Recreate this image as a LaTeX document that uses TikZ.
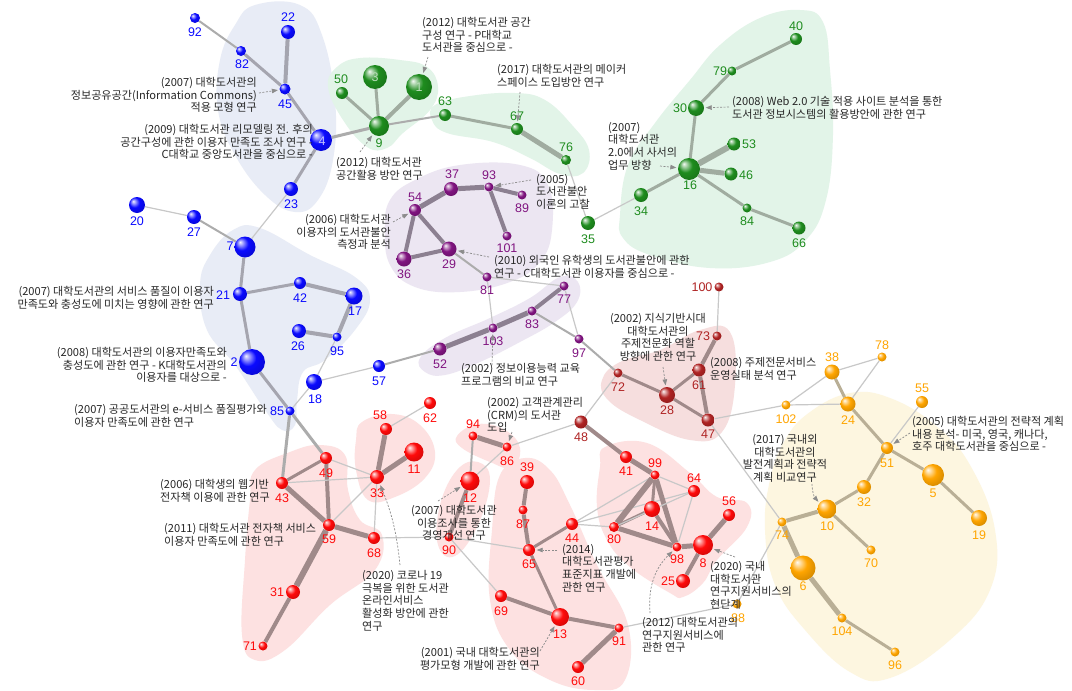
\documentclass[tikz,border=0pt]{standalone}
\usepackage{fontspec}
\setmainfont{Noto Sans CJK KR}
\newfontfamily\numfont{Liberation Sans}
\usetikzlibrary{arrows.meta}
\definecolor{cB}{RGB}{10,10,255}
\definecolor{cG}{RGB}{30,140,30}
\definecolor{cP}{RGB}{128,20,128}
\definecolor{cD}{RGB}{175,35,35}
\definecolor{cR}{RGB}{255,10,10}
\definecolor{cO}{RGB}{255,165,0}
\definecolor{bB}{RGB}{232,236,246}
\definecolor{bG}{RGB}{226,244,232}
\definecolor{bP}{RGB}{236,230,242}
\definecolor{bD}{RGB}{246,222,222}
\definecolor{bR}{RGB}{253,225,225}
\definecolor{bO}{RGB}{253,246,224}
\definecolor{eL}{RGB}{200,200,200}
\definecolor{eM}{RGB}{172,172,172}
\definecolor{ecB}{RGB}{165,165,175}
\definecolor{ecG}{RGB}{160,172,160}
\definecolor{ecP}{RGB}{140,128,145}
\definecolor{ecR}{RGB}{160,138,138}
\definecolor{ecO}{RGB}{185,175,150}
\colorlet{sphc}{blue}
\pgfdeclareradialshading[sphc]{sphshade}{\pgfqpoint{-12bp}{12bp}}{color(0bp)=(sphc!5!white); color(5bp)=(sphc!35!white); color(16bp)=(sphc); color(30bp)=(sphc!85!black); color(50bp)=(sphc!60!black)}
\tikzset{
  sph/.style={circle, inner sep=0pt, minimum size=#1, shade, shading=sphshade, draw=none},
  sc/.code={\colorlet{sphc}{#1}},
  lbl/.style={font=\numfont\fontsize{12.5}{14}\selectfont, inner sep=0pt},
  ann/.style={font=\fontsize{11.1}{12.7}\selectfont, inner sep=0pt, text=black!85},
  arr/.style={draw=black!45, dash pattern=on 2pt off 1.5pt, line width=0.7pt, -{Triangle[length=6pt,width=4.5pt]}, shorten >=1.5pt}
}
\newcommand\sphere[5]{\node[sph={2*#4pt}, sc=#5] (n#1) at (#2,#3) {};}
\newcommand\edg[3]{\draw[#1] (n#2) -- (n#3);}
\newcommand\nlab[4]{\node[lbl,text=#4] (l#1) at (#2,#3) {#1};}
\begin{document}
\begin{tikzpicture}[x=1pt,y=-1pt]
\useasboundingbox (0,0) rectangle (1072,691);
\fill[white] (0,0) rectangle (1072,691);
% ---------- blobs ----------
\fill[bB] plot[smooth cycle, tension=0.7] coordinates {(255,5) (300,5) (322,35) (335,100) (333,160) (318,200) (295,212) (265,195) (235,155) (218,110) (220,60) (235,25)};
\fill[bB] plot[smooth cycle, tension=0.7] coordinates {(233,230) (260,228) (310,255) (355,277) (370,300) (355,330) (325,360) (303,372) (297,400) (295,425) (282,430) (265,410) (235,365) (207,330) (200,285) (210,255)};
\fill[bG] plot[smooth cycle, tension=0.7] coordinates {(328,87) (337,67) (360,58) (400,60) (427,67) (438,87) (430,110) (403,133) (387,148) (367,147) (343,120)};
\fill[bG] plot[smooth cycle, tension=0.7] coordinates {(435,105) (470,96) (515,93) (545,100) (572,125) (589,150) (583,173) (560,174) (530,158) (493,142) (447,133) (432,120)};
\fill[bG] plot[smooth cycle, tension=0.7] coordinates {(620,215) (628,165) (655,123) (690,80) (720,45) (760,18) (800,10) (823,22) (830,70) (833,135) (826,200) (806,240) (770,262) (710,268) (650,255) (623,238)};
\fill[bP] plot[smooth cycle, tension=0.7] coordinates {(390,200) (415,180) (460,165) (520,165) (548,185) (552,230) (540,262) (510,282) (460,292) (415,287) (390,265) (385,230)};
\fill[bP] plot[smooth cycle, tension=0.7] coordinates {(420,358) (445,338) (490,318) (530,298) (560,277) (578,282) (577,302) (555,322) (520,342) (480,362) (445,375) (425,372)};
\fill[bD] plot[smooth cycle, tension=0.7] coordinates {(602,380) (620,362) (660,350) (700,330) (730,332) (735,385) (722,432) (690,440) (640,420) (608,400)};
\fill[bO] plot[smooth cycle, tension=0.7] coordinates {(785,440) (810,412) (850,393) (890,398) (935,425) (970,465) (995,530) (990,590) (950,640) (890,678) (850,672) (805,630) (775,585) (765,530) (770,480)};
\fill[bR] plot[smooth cycle, tension=0.7] coordinates {(255,470) (290,452) (320,445) (345,455) (348,490) (360,520) (382,535) (375,570) (330,605) (285,650) (255,660) (242,635) (245,560) (250,500)};
\fill[bR] plot[smooth cycle, tension=0.7] coordinates {(362,422) (392,414) (420,425) (435,452) (425,478) (395,497) (368,500) (356,470) (356,440)};
\fill[bR] plot[smooth cycle, tension=0.7] coordinates {(457,436) (478,424) (505,430) (520,448) (512,468) (490,462) (462,448)};
\fill[bR] plot[smooth cycle, tension=0.7] coordinates {(457,470) (478,462) (490,480) (478,525) (455,556) (438,545) (440,505)};
\fill[bR] plot[smooth cycle, tension=0.7] coordinates {(500,475) (525,458) (550,470) (570,505) (597,565) (628,625) (625,680) (595,690) (550,680) (510,650) (490,600) (492,530)};
\fill[bR] plot[smooth cycle, tension=0.7] coordinates {(605,447) (647,443) (690,473) (717,497) (747,503) (747,527) (717,560) (703,583) (683,597) (670,593) (630,567) (607,540) (597,507) (600,467)};
% ---------- sphere list ----------
\newcommand\allspheres{%
\sphere{92}{195}{18}{5}{cB}
\sphere{82}{241}{51}{5}{cB}
\sphere{22}{288}{32}{7}{cB}
\sphere{45}{285}{89}{5.5}{cB}
\sphere{4}{321}{140}{11}{cB}
\sphere{23}{291}{189}{7}{cB}
\sphere{20}{137}{205}{8}{cB}
\sphere{27}{194}{217}{7}{cB}
\sphere{7}{245}{247}{10.5}{cB}
\sphere{21}{240}{294}{7}{cB}
\sphere{42}{300}{283}{6}{cB}
\sphere{17}{354}{296}{8.5}{cB}
\sphere{26}{299}{331}{7}{cB}
\sphere{95}{337}{337}{4.5}{cB}
\sphere{2}{252}{362}{13}{cB}
\sphere{18}{314}{382}{8}{cB}
\sphere{57}{379}{366}{6}{cB}
\sphere{85}{290}{411}{4.5}{cB}
\sphere{50}{342}{93}{6}{cG}
\sphere{3}{375}{77}{12}{cG}
\sphere{1}{419}{87}{13}{cG}
\sphere{9}{379}{126}{10}{cG}
\sphere{63}{445}{115}{6}{cG}
\sphere{67}{517}{129}{6}{cG}
\sphere{76}{566}{160}{5}{cG}
\sphere{35}{588}{223}{7}{cG}
\sphere{34}{641}{195}{7}{cG}
\sphere{16}{689}{169}{11}{cG}
\sphere{30}{696}{108}{8}{cG}
\sphere{79}{732}{71}{4.5}{cG}
\sphere{40}{796}{39}{6}{cG}
\sphere{53}{734}{144}{6.5}{cG}
\sphere{46}{731}{174}{6.5}{cG}
\sphere{84}{747}{208}{4.5}{cG}
\sphere{66}{799}{228}{6.5}{cG}
\sphere{37}{451}{189}{7}{cP}
\sphere{93}{489}{187}{4.5}{cP}
\sphere{89}{522}{195}{4.5}{cP}
\sphere{54}{415}{210}{6}{cP}
\sphere{101}{507}{236}{4.5}{cP}
\sphere{36}{404}{259}{7.5}{cP}
\sphere{29}{449}{249}{7.5}{cP}
\sphere{81}{487}{277}{4.5}{cP}
\sphere{77}{564}{286}{4.5}{cP}
\sphere{83}{532}{311}{4.5}{cP}
\sphere{103}{493}{328}{4.5}{cP}
\sphere{52}{440}{349}{6.5}{cP}
\sphere{97}{579}{339}{4.5}{cP}
\sphere{100}{719}{287}{4.5}{cD}
\sphere{73}{717}{336}{4.5}{cD}
\sphere{61}{699}{370}{6.5}{cD}
\sphere{72}{618}{373}{4.5}{cD}
\sphere{28}{667}{395}{8}{cD}
\sphere{47}{708}{420}{6.5}{cD}
\sphere{48}{581}{422}{6.5}{cD}
\sphere{102}{786}{405}{4.5}{cO}
\sphere{38}{832}{372}{7.5}{cO}
\sphere{78}{882}{357}{4.5}{cO}
\sphere{55}{922}{402}{6}{cO}
\sphere{24}{848}{404}{7.5}{cO}
\sphere{51}{887}{448}{6}{cO}
\sphere{5}{933}{475}{11}{cO}
\sphere{32}{864}{487}{7}{cO}
\sphere{10}{827}{509}{9.5}{cO}
\sphere{19}{979}{518}{8}{cO}
\sphere{70}{871}{550}{4.5}{cO}
\sphere{6}{803}{568}{12.5}{cO}
\sphere{104}{842}{618}{4.5}{cO}
\sphere{96}{895}{652}{4.5}{cO}
\sphere{74}{782}{522}{4.5}{cO}
\sphere{88}{737}{604}{4.5}{cO}
\sphere{58}{386}{429}{6}{cR}
\sphere{62}{430}{403}{6}{cR}
\sphere{94}{473}{436}{4.5}{cR}
\sphere{86}{507}{447}{4.5}{cR}
\sphere{11}{414}{452}{9.5}{cR}
\sphere{12}{470}{481}{9.5}{cR}
\sphere{39}{527}{482}{7}{cR}
\sphere{87}{523}{510}{4.5}{cR}
\sphere{49}{326}{458}{6}{cR}
\sphere{43}{282}{483}{6}{cR}
\sphere{33}{377}{477}{7}{cR}
\sphere{59}{329}{525}{6}{cR}
\sphere{68}{374}{538}{6}{cR}
\sphere{90}{449}{537}{4.5}{cR}
\sphere{65}{529}{550}{6}{cR}
\sphere{31}{293}{592}{7}{cR}
\sphere{69}{501}{596}{6}{cR}
\sphere{71}{263}{646}{4.5}{cR}
\sphere{41}{626}{457}{6}{cR}
\sphere{99}{655}{475}{4.5}{cR}
\sphere{64}{694}{491}{6}{cR}
\sphere{14}{652}{509}{8}{cR}
\sphere{56}{729}{515}{6}{cR}
\sphere{44}{572}{524}{6}{cR}
\sphere{80}{614}{527}{5}{cR}
\sphere{98}{677}{547}{4.5}{cR}
\sphere{8}{703}{545}{10}{cR}
\sphere{25}{683}{581}{7}{cR}
\sphere{13}{560}{617}{9}{cR}
\sphere{91}{619}{628}{4.5}{cR}
\sphere{60}{578}{667}{6}{cR}
}
% first pass: invisible nodes for edge anchoring
\begin{scope}
\renewcommand\sphere[5]{\node[circle, inner sep=0pt, minimum size={2*#4pt}] (n#1) at (#2,#3) {};}
\allspheres
\end{scope}
% ---------- edges ----------
\edg{eM,line width=2pt}{92}{82}
\edg{ecB,line width=3pt}{82}{45}
\edg{ecB,line width=4pt}{22}{45}
\edg{ecB,line width=3pt}{45}{4}
\edg{ecB,line width=3pt}{4}{23}
\edg{eM,line width=3pt}{4}{9}
\edg{eL,line width=1.2pt}{23}{7}
\edg{eL,line width=1.2pt}{20}{27}
\edg{eM,line width=2pt}{27}{7}
\edg{ecB,line width=3pt}{7}{21}
\edg{ecB,line width=3pt}{21}{42}
\edg{ecB,line width=4pt}{42}{17}
\edg{ecB,line width=3pt}{21}{2}
\edg{ecB,line width=4pt}{17}{95}
\edg{ecB,line width=4pt}{26}{95}
\edg{eL,line width=1.2pt}{95}{18}
\edg{ecB,line width=3pt}{2}{85}
\edg{eM,line width=3pt}{85}{49}
\edg{eM,line width=3pt}{85}{43}
\edg{eL,line width=1.2pt}{85}{18}
\edg{eL,line width=1.2pt}{18}{57}
\edg{eM,line width=2pt}{57}{52}
\edg{ecG,line width=3pt}{50}{9}
\edg{ecG,line width=3pt}{3}{9}
\edg{ecG,line width=4pt}{1}{9}
\edg{eM,line width=2pt}{9}{63}
\edg{ecG,line width=3pt}{63}{67}
\edg{ecG,line width=5pt}{67}{76}
\edg{eL,line width=1.2pt}{76}{35}
\edg{eL,line width=1.2pt}{35}{34}
\edg{ecG,line width=3pt}{34}{16}
\edg{ecG,line width=3pt}{16}{30}
\edg{ecG,line width=3pt}{30}{79}
\edg{ecG,line width=3pt}{79}{40}
\edg{ecG,line width=6pt}{16}{53}
\edg{ecG,line width=5pt}{16}{46}
\edg{ecG,line width=3pt}{16}{84}
\edg{ecG,line width=3pt}{84}{66}
\edg{ecP,line width=5pt}{54}{37}
\edg{ecP,line width=5pt}{37}{93}
\edg{ecP,line width=4pt}{93}{89}
\edg{ecP,line width=4pt}{93}{101}
\edg{ecP,line width=4pt}{54}{36}
\edg{ecP,line width=4pt}{54}{29}
\edg{ecP,line width=4pt}{36}{29}
\edg{eM,line width=2pt}{29}{81}
\edg{eL,line width=1.2pt}{81}{77}
\edg{eL,line width=1.2pt}{81}{103}
\edg{ecP,line width=4pt}{83}{77}
\edg{ecP,line width=5pt}{103}{83}
\edg{ecP,line width=5pt}{52}{103}
\edg{eL,line width=1.2pt}{77}{97}
\edg{eM,line width=2pt}{83}{97}
\edg{eM,line width=2pt}{97}{72}
\edg{eL,line width=1.2pt}{100}{73}
\edg{ecR,line width=4pt}{73}{61}
\edg{ecR,line width=3pt}{61}{28}
\edg{ecR,line width=4pt}{61}{47}
\edg{ecR,line width=3pt}{72}{28}
\edg{ecR,line width=3pt}{28}{47}
\edg{eL,line width=1.2pt}{72}{48}
\edg{eL,line width=1.2pt}{48}{86}
\edg{ecR,line width=4pt}{48}{41}
\edg{eL,line width=1.2pt}{47}{102}
\edg{eL,line width=1.2pt}{47}{74}
\edg{eL,line width=1.2pt}{102}{24}
\edg{eL,line width=1.2pt}{38}{78}
\edg{ecO,line width=3pt}{38}{24}
\edg{eL,line width=1.2pt}{78}{24}
\edg{eL,line width=1.2pt}{38}{102}
\edg{ecO,line width=3pt}{24}{51}
\edg{eL,line width=1.2pt}{55}{51}
\edg{ecO,line width=3pt}{51}{5}
\edg{ecO,line width=3pt}{5}{19}
\edg{ecO,line width=3pt}{51}{32}
\edg{ecO,line width=3pt}{32}{10}
\edg{ecO,line width=4pt}{10}{74}
\edg{ecO,line width=3pt}{10}{70}
\edg{ecO,line width=5pt}{74}{6}
\edg{ecO,line width=5pt}{6}{104}
\edg{ecO,line width=3pt}{104}{96}
\edg{eL,line width=1.2pt}{74}{88}
\edg{eL,line width=1.2pt}{88}{91}
\edg{eL,line width=1.2pt}{58}{62}
\edg{ecR,line width=5pt}{58}{33}
\edg{ecR,line width=5pt}{33}{11}
\edg{ecR,line width=3pt}{49}{43}
\edg{ecR,line width=4pt}{49}{59}
\edg{eL,line width=1.2pt}{49}{33}
\edg{eL,line width=1.2pt}{43}{33}
\edg{ecR,line width=5pt}{43}{59}
\edg{eL,line width=1.2pt}{59}{33}
\edg{ecR,line width=5pt}{59}{68}
\edg{eL,line width=1.2pt}{33}{68}
\edg{ecR,line width=6pt}{59}{31}
\edg{ecR,line width=4pt}{31}{71}
\edg{eL,line width=1.2pt}{68}{90}
\edg{eL,line width=1.2pt}{90}{65}
\edg{ecR,line width=5pt}{94}{86}
\edg{eM,line width=2pt}{94}{12}
\edg{eL,line width=1.2pt}{86}{12}
\edg{ecR,line width=4pt}{12}{90}
\edg{eL,line width=1.2pt}{90}{69}
\edg{ecR,line width=4pt}{39}{87}
\edg{ecR,line width=4pt}{87}{65}
\edg{ecR,line width=3pt}{65}{44}
\edg{ecR,line width=3pt}{65}{13}
\edg{ecR,line width=4pt}{69}{13}
\edg{ecR,line width=4pt}{13}{91}
\edg{ecR,line width=5pt}{91}{60}
\edg{eL,line width=1.2pt}{44}{80}
\edg{eL,line width=1.2pt}{44}{99}
\edg{eL,line width=1.2pt}{44}{64}
\edg{ecR,line width=5pt}{41}{99}
\edg{ecR,line width=6pt}{99}{80}
\edg{ecR,line width=3pt}{99}{14}
\edg{ecR,line width=5pt}{99}{98}
\edg{eL,line width=1.2pt}{99}{64}
\edg{ecR,line width=3pt}{80}{14}
\edg{ecR,line width=5pt}{80}{98}
\edg{eL,line width=1.2pt}{80}{64}
\edg{ecR,line width=4pt}{14}{98}
\edg{eL,line width=1.2pt}{64}{98}
\edg{ecR,line width=5pt}{98}{8}
\edg{ecR,line width=5pt}{8}{56}
\edg{ecR,line width=4pt}{8}{25}
% ---------- spheres ----------
\renewcommand\sphere[5]{\node[sph={2*#4pt}, sc=#5] (n#1) at (#2,#3) {};}
\allspheres
% ---------- number labels ----------
\nlab{92}{195}{32}{cB}
\nlab{82}{242}{64}{cB}
\nlab{22}{288}{17}{cB}
\nlab{45}{285}{104}{cB}
\node[lbl,text=white!75!cB] (l4) at (322,141) {4};
\nlab{23}{291}{204}{cB}
\nlab{20}{137}{221}{cB}
\nlab{27}{194}{232}{cB}
\nlab{7}{230}{246}{cB}
\nlab{21}{223}{295}{cB}
\nlab{42}{300}{298}{cB}
\nlab{17}{355}{311}{cB}
\nlab{26}{298}{346}{cB}
\nlab{95}{337}{351}{cB}
\nlab{2}{234}{362}{cB}
\nlab{18}{315}{399}{cB}
\nlab{57}{379}{381}{cB}
\nlab{85}{277}{411}{cB}
\nlab{50}{341}{79}{cG}
\node[lbl,text=white!70!cG] (l3) at (375,77) {3};
\node[lbl,text=white!70!cG] (l1) at (419,87) {1};
\nlab{9}{379}{143}{cG}
\nlab{63}{445}{101}{cG}
\nlab{67}{517}{116}{cG}
\nlab{76}{566}{147}{cG}
\nlab{35}{588}{239}{cG}
\nlab{34}{641}{211}{cG}
\nlab{16}{690}{185}{cG}
\nlab{30}{680}{108}{cG}
\nlab{79}{720}{71}{cG}
\nlab{40}{796}{26}{cG}
\nlab{53}{749}{144}{cG}
\nlab{46}{746}{175}{cG}
\nlab{84}{747}{221}{cG}
\nlab{66}{799}{243}{cG}
\nlab{37}{452}{174}{cP}
\nlab{93}{489}{175}{cP}
\nlab{89}{522}{208}{cP}
\nlab{54}{415}{197}{cP}
\nlab{101}{507}{248}{cP}
\nlab{36}{404}{274}{cP}
\nlab{29}{449}{264}{cP}
\nlab{81}{487}{290}{cP}
\nlab{77}{564}{299}{cP}
\nlab{83}{532}{324}{cP}
\nlab{103}{493}{341}{cP}
\nlab{52}{440}{364}{cP}
\nlab{97}{579}{353}{cP}
\nlab{100}{702}{287}{cD}
\nlab{73}{703}{336}{cD}
\nlab{61}{699}{385}{cD}
\nlab{72}{618}{387}{cD}
\nlab{28}{667}{410}{cD}
\nlab{47}{708}{434}{cD}
\nlab{48}{581}{437}{cD}
\nlab{102}{786}{419}{cO}
\nlab{38}{832}{357}{cO}
\nlab{78}{882}{345}{cO}
\nlab{55}{922}{388}{cO}
\nlab{24}{848}{420}{cO}
\nlab{51}{887}{463}{cO}
\nlab{5}{933}{493}{cO}
\nlab{32}{864}{502}{cO}
\nlab{10}{827}{526}{cO}
\nlab{19}{979}{535}{cO}
\nlab{70}{871}{563}{cO}
\nlab{6}{803}{586}{cO}
\nlab{104}{842}{631}{cO}
\nlab{96}{895}{665}{cO}
\nlab{74}{782}{535}{cO}
\nlab{88}{738}{618}{cO}
\nlab{58}{380}{415}{cR}
\nlab{62}{430}{418}{cR}
\nlab{94}{473}{424}{cR}
\nlab{86}{507}{461}{cR}
\nlab{11}{414}{469}{cR}
\nlab{12}{470}{498}{cR}
\nlab{39}{527}{467}{cR}
\nlab{87}{523}{524}{cR}
\nlab{49}{326}{473}{cR}
\nlab{43}{282}{498}{cR}
\nlab{33}{377}{493}{cR}
\nlab{59}{329}{539}{cR}
\nlab{68}{374}{553}{cR}
\nlab{90}{449}{550}{cR}
\nlab{65}{529}{564}{cR}
\nlab{31}{277}{592}{cR}
\nlab{69}{501}{611}{cR}
\nlab{71}{250}{646}{cR}
\nlab{41}{626}{471}{cR}
\nlab{99}{655}{463}{cR}
\nlab{64}{694}{478}{cR}
\nlab{14}{652}{526}{cR}
\nlab{56}{729}{501}{cR}
\nlab{44}{572}{538}{cR}
\nlab{80}{614}{539}{cR}
\nlab{98}{677}{559}{cR}
\nlab{8}{703}{563}{cR}
\nlab{25}{668}{581}{cR}
\nlab{13}{560}{634}{cR}
\nlab{91}{619}{641}{cR}
\nlab{60}{578}{681}{cR}
% ---------- annotations ----------
\node[ann, align=right, anchor=north east] (A1) at (257,77) {(2007) 대학도서관의\\정보공유공간(Information Commons)\\적용 모형 연구};
\node[ann, align=right, anchor=north east] (A2) at (313,124) {(2009) 대학도서관 리모델링 전. 후의\\공간구성에 관한 이용자 만족도 조사 연구 -\\C대학교 중앙도서관을 중심으로 -};
\node[ann, align=left, anchor=north west] (A3) at (422,17) {(2012) 대학도서관 공간\\구성 연구 - P대학교\\도서관을 중심으로 -};
\node[ann, align=left, anchor=north west] (A4) at (497,64) {(2017) 대학도서관의 메이커\\스페이스 도입방안 연구};
\node[ann, align=left, anchor=north west] (A5) at (336,157) {(2012) 대학도서관\\공간활용 방안 연구};
\node[ann, align=left, anchor=north west] (A6) at (536,174) {(2005)\\도서관불안\\이론의 고찰};
\node[ann, align=left, anchor=north west] (A7) at (608,122) {(2007)\\대학도서관\\2.0에서 사서의\\업무 방향};
\node[ann, align=left, anchor=north west] (A8) at (732,96) {(2008) Web 2.0 기술 적용 사이트 분석을 통한\\도서관 정보시스템의 활용방안에 관한 연구};
\node[ann, align=right, anchor=north east] (A9) at (391,214) {(2006) 대학도서관\\이용자의 도서관불안\\측정과 분석};
\node[ann, align=left, anchor=north west] (A10) at (494,255) {(2010) 외국인 유학생의 도서관불안에 관한\\연구 - C대학도서관 이용자를 중심으로 -};
\node[ann, align=right, anchor=north east] (A11) at (214,286) {(2007) 대학도서관의 서비스 품질이 이용자\\만족도와 충성도에 미치는 영향에 관한 연구};
\node[ann, align=right, anchor=north east] (A12) at (227,347) {(2008) 대학도서관의 이용자만족도와\\충성도에 관한 연구 - K대학도서관의\\이용자를 대상으로 -};
\node[ann, align=left, anchor=north west] (A13) at (74,404) {(2007) 공공도서관의 e-서비스 품질평가와\\이용자 만족도에 관한 연구};
\node[ann, align=left, anchor=north west] (A14) at (461,363) {(2002) 정보이용능력 교육\\프로그램의 비교 연구};
\node[ann, align=left, anchor=north west] (A15) at (487,397) {(2002) 고객관계관리\\(CRM)의 도서관\\도입};
\node[ann, align=center, anchor=north] (A16) at (658,313) {(2002) 지식기반시대\\대학도서관의\\주제전문화 역할\\방향에 관한 연구};
\node[ann, align=left, anchor=north west] (A17) at (710,357) {(2008) 주제전문서비스\\운영실태 분석 연구};
\node[ann, align=left, anchor=north west] (A18) at (912,416) {(2005) 대학도서관의 전략적 계획\\내용 분석- 미국, 영국, 캐나다,\\호주 대학도서관을 중심으로 -};
\node[ann, align=center, anchor=north] (A19) at (785,434) {(2017) 국내외\\대학도서관의\\발전계획과 전략적\\계획 비교연구};
\node[ann, align=left, anchor=north west] (A20) at (160,479) {(2006) 대학생의 웹기반\\전자책 이용에 관한 연구};
\node[ann, align=left, anchor=north west] (A21) at (164,523) {(2011) 대학도서관 전자책 서비스\\이용자 만족도에 관한 연구};
\node[ann, align=left, anchor=north west] (A22) at (362,570) {(2020) 코로나 19\\극복을 위한 도서관\\온라인서비스\\활성화 방안에 관한\\연구};
\node[ann, align=center, anchor=north] (A23) at (454,505) {(2007) 대학도서관\\이용조사를 통한\\경영개선 연구};
\node[ann, align=left, anchor=north west] (A24) at (562,544) {(2014)\\대학도서관평가\\표준지표 개발에\\관한 연구};
\node[ann, align=right, anchor=north east] (A25) at (540,647) {(2001) 국내 대학도서관의\\평가모형 개발에 관한 연구};
\node[ann, align=left, anchor=north west] (A26) at (710,561) {(2020) 국내\\대학도서관\\연구지원서비스의\\현단계};
\node[ann, align=left, anchor=north west] (A27) at (642,617) {(2012) 대학도서관의\\연구지원서비스에\\관한 연구};
% ---------- annotation arrows ----------
\coordinate (c1) at (259,93);
\coordinate (c3) at (428,57);
\coordinate (c4) at (520,92);
\coordinate (c5) at (360,152);
\coordinate (c6) at (531,180);
\coordinate (c7) at (660,166);
\coordinate (c8) at (729,107);
\coordinate (c9) at (393,222);
\coordinate (c10) at (489,257);
\coordinate (c14) at (492,365);
\coordinate (c15) at (512,432);
\coordinate (c16) at (663,367);
\coordinate (c18) at (910,433);
\coordinate (c19) at (812,484);
\coordinate (c22) at (400,565);
\coordinate (c23) at (438,501);
\coordinate (c24) at (557,550);
\coordinate (c25) at (540,651);
\coordinate (c26) at (735,557);
\coordinate (c27) at (650,613);
\draw[arr] (c1) -- (n45);
\draw[arr] (c3) -- (n1);
\draw[arr] (c4) -- (n67);
\draw[arr] (c5) -- (n9);
\draw[arr] (c6) -- (n93);
\draw[arr] (c7) -- (n16);
\draw[arr] (c8) -- (n30);
\draw[arr] (c9) -- (n54);
\draw[arr] (c10) -- (n29);
\draw[arr] (c14) -- (n103);
\draw[arr] (c15) -- (n86);
\draw[arr] (c16) -- (n28);
\draw[arr] (c18) -- (n51);
\draw[arr] (c19) to[bend right=20] (n10);
\draw[arr] (c22) to[bend right=8] (n33);
\draw[arr] (c23) -- (n12);
\draw[arr] (c24) -- (n65);
\draw[arr] (c25) -- (n13);
\draw[arr] (c26) -- (n8);
\draw[arr] (c27) to[bend left=25] (n98);
\end{tikzpicture}
\end{document}
